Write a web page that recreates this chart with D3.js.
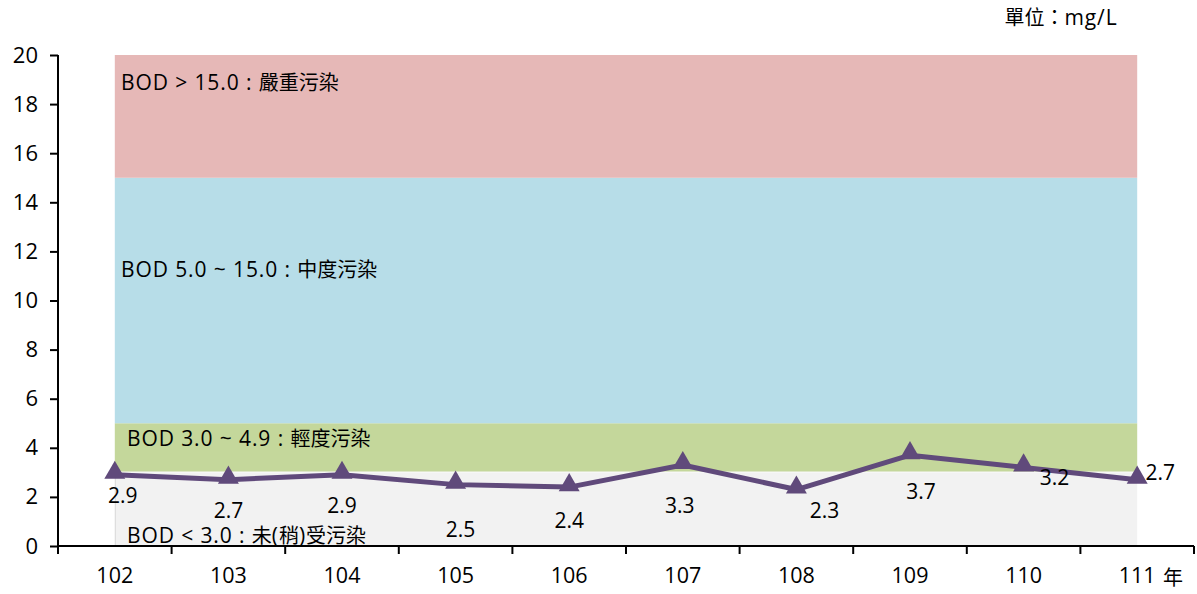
<!DOCTYPE html>
<html>
<head>
<meta charset="utf-8">
<script src="https://cdn.jsdelivr.net/npm/d3@7"></script>
<style>
  html, body { margin: 0; padding: 0; background: #fff; }
  svg { display: block; font-family: "Open Sans", "Noto Sans CJK TC", sans-serif; }
</style>
</head>
<body>
<svg id="chart" width="1197" height="594"></svg>
<script>
// Annual BOD readings (mg/L), ROC years 102–111
const years = ["102", "103", "104", "105", "106", "107", "108", "109", "110", "111"];
const bod = [2.9, 2.7, 2.9, 2.5, 2.4, 3.3, 2.3, 3.7, 3.2, 2.7];
const yTicks = [0, 2, 4, 6, 8, 10, 12, 14, 16, 18, 20];

// Pollution classification bands
const bandLabels = ["BOD < 3.0 : 未(稍)受污染", "BOD 3.0 ~ 4.9 : 輕度污染", "BOD 5.0 ~ 15.0 : 中度污染", "BOD > 15.0 : 嚴重污染"];
const bandLow = [0, 3, 5, 15];
const bandHigh = [3, 5, 15, 20];
const bandColors = ["#f2f2f2", "#c4d79b", "#b7dde8", "#e6b8b7"];

// Data label placement relative to each point (px)
const labelDx = [8, 0, 0, 5, 0, -3, 28, 11, 31, 23];
const labelDy = [28, 38, 38, 52, 41, 48, 28, 44, 18, 0];

const FONT = "'Open Sans', 'Noto Sans CJK TC', sans-serif";
const svg = d3.select("#chart");
const mLeft = 58, mRight = 1194, mTop = 55, mBottom = 546;

const x = d3.scaleBand().domain(years).range([mLeft, mRight]);
const y = d3.scaleLinear().domain([0, 20]).range([mBottom, mTop]);
const cx = d => x(d) + x.bandwidth() / 2;

// Write mixed Latin / CJK text, giving CJK runs their own size
const cjkRe = /[\u3000-\u9fff\uff00-\uffef]+/g;
function mixedText(sel, str, latinSize, cjkSize) {
  let last = 0, m;
  cjkRe.lastIndex = 0;
  while ((m = cjkRe.exec(str)) !== null) {
    if (m.index > last) sel.append("tspan").attr("font-size", latinSize).text(str.slice(last, m.index));
    sel.append("tspan").attr("font-size", cjkSize).attr("letter-spacing", 0).text(m[0]);
    last = m.index + m[0].length;
  }
  if (last < str.length) sel.append("tspan").attr("font-size", latinSize).text(str.slice(last));
}

// Background bands spanning first to last category centre
const xStart = cx(years[0]), xEnd = cx(years[years.length - 1]);
const bands = bandLow.map((lo, i) => ({ lo, hi: bandHigh[i], color: bandColors[i], label: bandLabels[i] }));

svg.append("g").selectAll("rect").data(bands).join("rect")
  .attr("x", xStart)
  .attr("width", xEnd - xStart)
  .attr("y", d => y(d.hi))
  .attr("height", d => y(d.lo) - y(d.hi))
  .attr("fill", d => d.color);

// Thin separator between the grey and green bands, and grey band edge
svg.append("line")
  .attr("x1", xStart).attr("x2", xEnd)
  .attr("y1", y(3)).attr("y2", y(3))
  .attr("stroke", "#f7f7f7").attr("stroke-width", 1.5);
svg.append("line")
  .attr("x1", xStart + 0.5).attr("x2", xStart + 0.5)
  .attr("y1", y(0)).attr("y2", y(3))
  .attr("stroke", "#d9d9d9").attr("stroke-width", 1);

// Band captions
const bandTextX = [127, 127, 121, 121];
const bandTextY = [543, 446, 277, 90];
svg.append("g").selectAll("text").data(bands).join("text")
  .attr("x", (d, i) => bandTextX[i])
  .attr("y", (d, i) => bandTextY[i])
  .attr("fill", "#000")
  .attr("letter-spacing", 0.9)
  .each(function(d) { mixedText(d3.select(this), d.label, 21, 20); });

// Axes
const yAxis = svg.append("g")
  .attr("transform", `translate(${mLeft},0)`)
  .call(d3.axisLeft(y).tickValues(yTicks).tickSize(8).tickSizeOuter(0).tickPadding(12));
yAxis.select(".domain").attr("stroke", "#000").attr("stroke-width", 2).attr("d", `M0,${mTop}V${mBottom}`);
yAxis.selectAll(".tick line").attr("stroke", "#000").attr("stroke-width", 2);
yAxis.selectAll(".tick text").attr("font-size", 22).attr("fill", "#000").style("font-family", FONT);

const xAxis = svg.append("g")
  .attr("transform", `translate(0,${mBottom})`)
  .call(d3.axisBottom(x).tickSize(0).tickPadding(22));
xAxis.select(".domain").attr("stroke", "#000").attr("stroke-width", 2).attr("d", `M${mLeft - 1},0H${mRight}`);
xAxis.selectAll(".tick text").attr("font-size", 21.5).attr("fill", "#000").style("font-family", FONT);

// Category separator ticks
const sepPositions = years.map(d => x(d)).concat([mRight]);
svg.append("g").selectAll("line").data(sepPositions).join("line")
  .attr("x1", d => d).attr("x2", d => d)
  .attr("y1", mBottom).attr("y2", mBottom + 8)
  .attr("stroke", "#000").attr("stroke-width", 2);

// Data line
const pts = years.map((d, i) => ({ year: d, v: bod[i], i }));
svg.append("path")
  .datum(pts)
  .attr("fill", "none")
  .attr("stroke", "#604a7b")
  .attr("stroke-width", 5)
  .attr("stroke-linejoin", "round")
  .attr("d", d3.line().x(d => cx(d.year)).y(d => y(d.v)));

// Triangle markers
const tri = d3.symbol().type(d3.symbolTriangle).size(190);
svg.append("g").selectAll("path").data(pts).join("path")
  .attr("transform", d => `translate(${cx(d.year)},${y(d.v) - 2})`)
  .attr("d", tri)
  .attr("fill", "#604a7b");

// Value labels
svg.append("g").selectAll("text").data(pts).join("text")
  .attr("x", d => cx(d.year) + labelDx[d.i])
  .attr("y", d => y(d.v) + labelDy[d.i])
  .attr("text-anchor", "middle")
  .attr("font-size", 21)
  .attr("fill", "#000")
  .text(d => d.v.toFixed(1));

// Unit and axis-unit captions
svg.append("text")
  .attr("x", 1061).attr("y", 25)
  .attr("text-anchor", "middle")
  .attr("fill", "#000")
  .attr("letter-spacing", 0.9)
  .call(s => mixedText(s, "單位：mg/L", 21, 20));

svg.append("text")
  .attr("x", 1163).attr("y", 585)
  .attr("font-size", 20)
  .attr("fill", "#000")
  .text("年");
</script>
</body>
</html>
